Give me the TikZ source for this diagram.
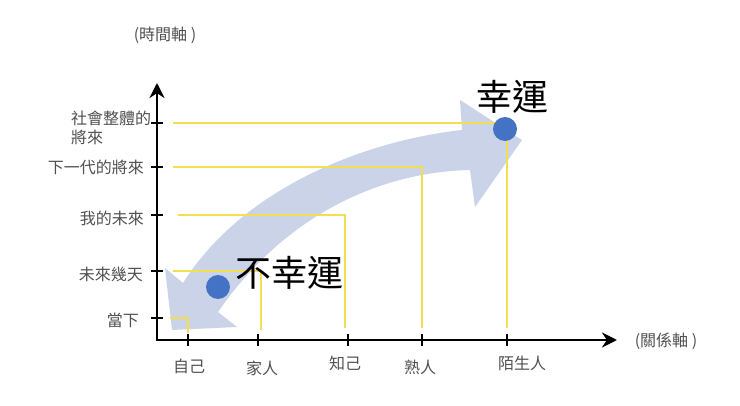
\documentclass[tikz,border=0pt]{standalone}
\usepackage{fontspec}
\setmainfont{Noto Sans CJK TC}
\usetikzlibrary{arrows.meta}

\definecolor{guideyellow}{RGB}{242,222,78}
\definecolor{bandblue}{RGB}{203,211,233}
\definecolor{dotblue}{RGB}{68,114,196}
\definecolor{labelgray}{RGB}{80,80,80}

\begin{document}
\begin{tikzpicture}[x=1pt, y=-1pt,
  axis/.style = {line width=2.4pt,
    {Stealth[length=15pt,width=15pt]}-{Stealth[length=15pt,width=15pt]}},
  tickmark/.style = {line width=1.6pt},
  guide/.style = {line width=2.4pt, draw=guideyellow},
  band/.style = {fill=bandblue},
  dot/.style = {circle, fill=dotblue, minimum size=24pt, inner sep=0pt},
  lab/.style = {inner sep=0pt, text=labelgray, font=\fontsize{16}{19}\selectfont},
  luck/.style = {inner sep=0pt, font=\fontsize{36}{40}\selectfont}]
  \useasboundingbox (0,0) rectangle (740,406);

  % big curved double arrow
  \fill[band] (172,330) -- (165,268) -- (183,283)
    .. controls (245,185) and (370,140) .. (462,130)
    -- (460,100) -- (522,140) -- (475,207) -- (470,170)
    .. controls (380,172) and (285,215) .. (218,312)
    -- (237,327) -- cycle;

  % axes
  \coordinate (ytop) at (157,83);
  \coordinate (origin) at (157,340);
  \coordinate (xend) at (617,340);
  \draw[axis] (ytop) -- (origin) -- (xend);
  \foreach \y in {123,167,215,271,318}
    \draw[tickmark] (151,\y) -- (163,\y);
  \foreach \x in {188,258,348,422,507}
    \draw[tickmark] (\x,334) -- (\x,346);

  % guide lines
  \coordinate (now) at (170,318);   \coordinate (self) at (188,333);
  \coordinate (days) at (173,271);  \coordinate (family) at (261,330);
  \coordinate (mine) at (178,215);  \coordinate (friend) at (345,328);
  \coordinate (next) at (173,167);  \coordinate (known) at (422,328);
  \coordinate (society) at (173,123); \coordinate (stranger) at (507,328);
  \draw[guide] (now) -| (self);
  \draw[guide] (days) -| (family);
  \draw[guide] (mine) -| (friend);
  \draw[guide] (next) -| (known);
  \draw[guide] (society) -| (stranger);

  % dots and words
  \node[dot] (unlucky) at (218,287) {};
  \node[dot] (lucky) at (505,129) {};
  \node[luck] (unluckytext) at (289,273) {不幸運};
  \node[luck] (luckytext) at (512,97) {幸運};

  % axis labels
  \node[lab] (timeaxis) at (165,35) {(時間軸 )};
  \node[lab] (relaxis) at (666,341) {(關係軸 )};
  \node[lab, anchor=west, align=left] (ysociety) at (71,127.5) {社會整體的\\將來};
  \node[lab, anchor=east] (ynext) at (144,167) {下一代的將來};
  \node[lab, anchor=east] (ymine) at (144,218) {我的未來};
  \node[lab, anchor=east] (ydays) at (143,274) {未來幾天};
  \node[lab, anchor=east] (ynow) at (139,320) {當下};
  \node[lab] (xself) at (189,366) {自己};
  \node[lab] (xfamily) at (262,368) {家人};
  \node[lab] (xfriend) at (345,363) {知己};
  \node[lab] (xknown) at (420,367) {熟人};
  \node[lab] (xstranger) at (522,363) {陌生人};
\end{tikzpicture}
\end{document}
